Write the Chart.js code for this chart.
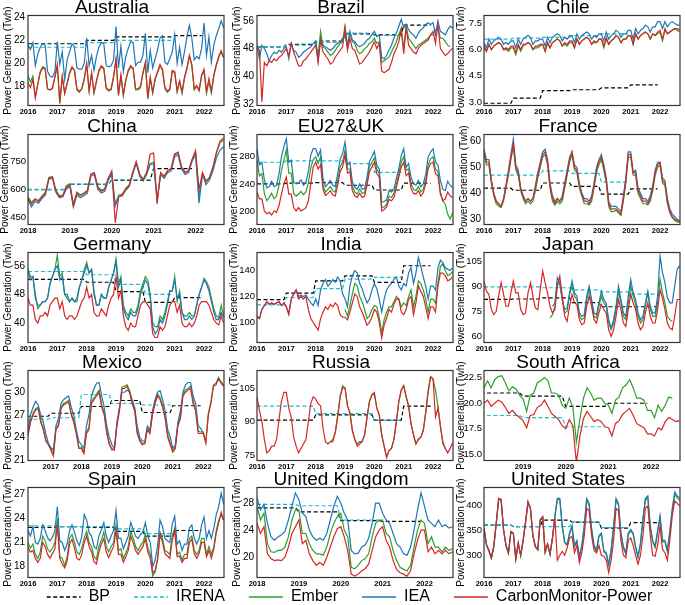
<!DOCTYPE html>
<html>
<head>
<meta charset="utf-8">
<script src="https://cdn.jsdelivr.net/npm/chart.js@4.4.0/dist/chart.umd.min.js"></script>
<style>
  body { margin: 0; background: #fff; width: 685px; height: 605px; overflow: hidden; position: relative; }
  canvas { position: absolute; }
</style>
</head>
<body>
<script>
// ---------- data (monthly series start at the given year/month, annual at Jan of start year) ----------
const years16 = [2016, 2017, 2018, 2019, 2020, 2021, 2022];
const years18 = [2018, 2019, 2020, 2021, 2022];
const yearsMexico = [2017, 2018, 2019, 2020, 2021, 2022];
const yearsSA = [2019, 2020, 2021, 2022];

// Australia
const australiaTicks = [18, 20, 22, 24];
const australiaBP = [21.7, 21.7, 22.0, 22.3, 22.3, 22.4];
const australiaIRENA = [21.4, 21.4, 21.8, 22.0, 22.0];
const australiaEmber = [
  18.9, 18.4, 18.9, 17.1, 18.2, 19.3, 19.7, 19.6, 17.8, 17.7, 17.8, 18.8,
  19.8, 16.5, 18.8, 17.4, 18.2, 19.1, 19.6, 19.4, 17.7, 17.5, 17.8, 18.6,
  19.9, 17.6, 19.1, 17.4, 18.4, 19.3, 19.7, 19.5, 17.8, 17.6, 17.7, 18.8,
  20.3, 17.2, 18.9, 17.2, 18.5, 19.3, 19.7, 19.5, 17.7, 17.7, 17.9, 19.1,
  20.0, 16.9, 18.7, 17.4, 18.6, 19.2, 19.8, 19.4, 17.8, 17.5, 17.7, 19.3,
  19.2, 17.5, 18.4, 17.4, 18.7, 19.5, 20.6, 19.8, 17.7, 18.0, 17.6, 18.9,
  19.3, 17.4, 18.4, 17.4, 18.9, 19.8, 20.5, 21.0, 20.5
];
const australiaIEA = [
  21.6, 21.2, 21.8, 19.8, 20.8, 21.4, 21.7, 21.6, 19.3, 18.9, 18.8, 19.3,
  21.9, 19.9, 21.0, 18.6, 20.3, 21.0, 21.7, 21.4, 19.6, 19.5, 19.5, 20.0,
  22.2, 19.8, 20.7, 19.4, 20.6, 21.4, 21.8, 21.7, 19.8, 19.7, 19.8, 20.3,
  23.2, 19.6, 21.5, 19.3, 20.6, 21.3, 21.9, 21.8, 19.8, 20.1, 20.1, 20.7,
  22.6, 19.2, 21.1, 19.6, 20.4, 21.2, 22.2, 22.4, 20.1, 19.9, 20.4, 21.0,
  22.5, 20.0, 21.4, 19.9, 21.0, 22.3, 23.3, 22.2, 20.3, 20.6, 20.4, 21.3,
  23.5, 20.7, 22.3, 20.1, 21.6, 22.4, 23.0, 23.7, 23.1
];
const australiaCM = [
  18.3, 17.9, 18.6, 17.0, 18.2, 19.2, 19.6, 19.5, 17.8, 17.7, 17.9, 18.8,
  19.9, 16.6, 18.9, 17.4, 18.3, 19.2, 19.7, 19.4, 17.8, 17.6, 17.8, 18.7,
  20.0, 17.6, 19.2, 17.5, 18.5, 19.4, 19.8, 19.6, 17.9, 17.7, 17.8, 18.9,
  20.4, 17.3, 19.0, 17.3, 18.6, 19.4, 19.8, 19.6, 17.8, 17.8, 18.0, 19.2,
  20.1, 17.0, 18.8, 17.5, 18.7, 19.3, 19.9, 19.5, 17.9, 17.6, 17.8, 19.4,
  19.3, 17.6, 18.5, 17.5, 18.8, 19.6, 20.7, 19.9, 17.8, 18.1, 17.7, 19.0,
  19.5, 17.6, 18.7, 17.6, 19.0, 19.9, 20.6, 21.1, 20.5
];

// Brazil
const brazilTicks = [32, 40, 48, 56];
const brazilBP = [48.5, 49.2, 50.2, 52.3, 52.0, 54.8];
const brazilIRENA = [48.5, 49.0, 49.8, 52.5, 51.8];
const brazilEmber = [
  50.0, 46.0, 53.0, 48.5, 48.0, 47.0, 46.0, 46.5, 47.5, 48.5, 49.5, 50.0,
  54.5, 49.0, 52.5, 50.0, 49.5, 47.5, 46.5, 47.0, 48.0, 48.5, 49.5, 50.0,
  51.0, 49.5, 50.0, 44.0, 44.5, 45.0, 45.5, 47.0, 48.5, 50.0, 52.0, 54.0,
  48.0, 54.5, 51.0, 50.0, 49.0, 48.0, 49.0, 49.5, 50.0, 50.5, 51.0, 52.0,
  52.0, 53.5, 54.0, 51.0, 51.0, 50.0, 49.0, 48.5
];
const brazilIEA = [
  49.0, 45.0, 49.0, 48.0, 46.5, 44.5, 46.0, 47.0, 46.5, 47.5, 47.0, 48.0,
  48.5, 45.0, 49.5, 47.5, 47.0, 45.5, 46.0, 47.0, 47.5, 48.0, 48.5, 49.5,
  50.0, 44.5, 51.0, 49.0, 48.5, 48.0, 47.5, 48.0, 49.0, 49.5, 50.0, 51.0,
  52.0, 48.5, 53.0, 50.5, 50.0, 49.0, 48.5, 49.0, 49.5, 50.5, 51.0, 52.0,
  53.0, 51.5, 52.0, 45.5, 45.0, 46.0, 47.5, 49.0, 51.0, 52.5, 54.5, 56.5,
  54.0, 55.0, 53.5, 52.5, 52.0, 51.0, 52.5, 53.5, 54.0, 55.0, 55.5, 55.0,
  55.5, 52.0, 56.0, 53.0, 52.5, 52.0, 53.5, 54.5, 54.0
];
const brazilCM = [
  48.5, 47.5, 32.5, 44.0, 43.0, 44.5, 44.0, 45.0, 44.5, 45.5, 46.0, 47.0,
  48.0, 46.0, 49.5, 47.0, 45.0, 43.0, 43.0, 44.5, 45.0, 46.0, 47.0, 48.0,
  49.0, 44.0, 50.5, 47.0, 46.0, 45.0, 43.5, 44.0, 45.5, 46.5, 47.5, 48.5,
  54.0, 47.5, 51.0, 48.0, 47.5, 45.5, 43.5, 44.0, 45.0, 46.0, 47.0, 48.5,
  50.0, 48.0, 49.5, 41.5, 41.0, 41.5, 42.0, 44.0, 46.5, 48.0, 50.0, 53.5,
  46.5, 54.0, 49.0, 48.0, 47.0, 46.5, 48.0, 49.0, 49.5, 50.0, 50.5, 52.0,
  53.0, 49.5, 55.0, 48.0, 47.0, 46.0, 46.5, 47.5, 48.0
];

// Chile
const chileTicks = [3.0, 4.5, 6.0, 7.5];
const chileBP = [2.93, 3.22, 3.65, 3.7, 3.81, 3.98];
const chileIRENA = [6.6, 6.65, 6.7, 6.8, 6.9];
const chileEmber = [
  6.1, 5.9, 6.3, 6.0, 6.2, 6.3, 6.4, 6.3, 6.0, 6.0, 5.9, 6.1,
  6.1, 5.7, 6.2, 5.9, 6.2, 6.3, 6.4, 6.3, 6.0, 6.1, 6.1, 6.2,
  6.3, 5.9, 6.4, 6.1, 6.4, 6.5, 6.6, 6.5, 6.2, 6.3, 6.2, 6.4,
  6.4, 6.1, 6.6, 6.3, 6.5, 6.6, 6.7, 6.6, 6.3, 6.4, 6.4, 6.6,
  6.6, 6.1, 6.6, 6.3, 6.5, 6.6, 6.8, 6.7, 6.4, 6.6, 6.6, 6.8,
  6.8, 6.3, 6.9, 6.6, 6.8, 6.9, 7.0, 6.9, 6.6, 6.9, 6.8, 6.9,
  7.0, 6.5, 7.1, 6.9, 7.0, 7.1, 7.2, 7.1, 7.0
];
const chileIEA = [
  6.4, 6.1, 6.6, 6.3, 6.5, 6.6, 6.7, 6.6, 6.3, 6.4, 6.3, 6.5,
  6.5, 6.1, 6.6, 6.3, 6.6, 6.7, 6.8, 6.7, 6.3, 6.5, 6.5, 6.6,
  6.6, 6.2, 6.7, 6.4, 6.7, 6.8, 6.9, 6.8, 6.5, 6.7, 6.6, 6.8,
  6.8, 6.4, 6.9, 6.6, 6.8, 6.9, 7.0, 6.9, 6.6, 6.8, 6.7, 6.9,
  6.9, 6.5, 7.0, 6.6, 6.8, 6.9, 7.1, 7.0, 6.7, 6.9, 6.9, 7.1,
  7.1, 6.6, 7.2, 6.9, 7.1, 7.2, 7.4, 7.3, 7.0, 7.3, 7.3, 7.6,
  7.6, 7.2, 7.6, 7.3, 7.5, 7.6, 7.5, 7.4, 7.4
];
const chileCM = [
  6.2, 5.9, 6.3, 6.0, 6.2, 6.3, 6.4, 6.3, 6.0, 6.1, 6.0, 6.2,
  6.2, 5.8, 6.3, 6.0, 6.3, 6.3, 6.4, 6.3, 6.0, 6.2, 6.2, 6.3,
  6.3, 5.9, 6.4, 6.1, 6.4, 6.5, 6.6, 6.5, 6.2, 6.4, 6.3, 6.5,
  6.5, 6.1, 6.6, 6.3, 6.5, 6.6, 6.7, 6.6, 6.3, 6.5, 6.4, 6.6,
  6.6, 6.2, 6.7, 6.3, 6.5, 6.6, 6.8, 6.7, 6.4, 6.6, 6.6, 6.8,
  6.8, 6.3, 6.9, 6.6, 6.8, 6.9, 7.0, 6.9, 6.6, 6.9, 6.8, 7.0,
  7.1, 6.6, 7.2, 6.9, 7.0, 7.1, 7.2, 7.2, 7.1
];

// China (from 2018)
const chinaTicks = [450, 600, 750];
const chinaBP = [598, 627, 650, 712];
const chinaIRENA = [600, 628, 653];
const chinaEmber = [
  560, 530, 550, 540, 565, 585, 665, 668, 595, 565, 570, 620,
  630, 520, 585, 570, 580, 595, 680, 690, 615, 595, 605, 660,
  690, 520, 570, 575, 605, 625, 690, 745, 680, 655, 690, 740,
  745, 545, 690, 670, 700, 712, 785, 795, 720, 692, 700, 760,
  800, 560, 690, 645, 665, 720, 795, 850, 865
];
const chinaIEA = [
  545, 505, 535, 525, 550, 570, 655, 660, 585, 555, 560, 605,
  615, 505, 570, 555, 565, 580, 670, 680, 600, 580, 590, 650,
  680, 510, 560, 565, 595, 615, 680, 740, 670, 645, 680, 735,
  735, 540, 680, 660, 690, 700, 775, 785, 710, 680, 690, 750,
  790, 525, 680, 625, 650, 700, 770, 810, 830
];
const chinaCM = [
  555, 520, 545, 535, 560, 580, 660, 665, 590, 560, 565, 615,
  625, 510, 580, 565, 575, 590, 680, 690, 610, 590, 600, 660,
  700, 420, 560, 570, 600, 620, 690, 750, 680, 650, 690, 790,
  795, 525, 690, 670, 700, 710, 790, 800, 720, 690, 700, 760,
  810, 600, 690, 640, 660, 720, 800, 860, 875
];

// EU27&UK
const euTicks = [200, 240, 280];
const euBP = [240, 241, 242, 238, 231, 241];
const euIRENA = [272, 274, 274, 270, 257];
const euEmber = [
  275, 252, 255, 226, 215, 220, 226, 218, 222, 238, 260, 275,
  290, 256, 256, 226, 222, 225, 229, 224, 228, 241, 264, 276,
  280, 270, 280, 238, 228, 232, 236, 230, 228, 245, 265, 272,
  290, 262, 262, 236, 228, 225, 232, 226, 227, 243, 265, 272,
  278, 262, 255, 205, 206, 210, 222, 220, 226, 240, 255, 272,
  280, 260, 262, 240, 232, 230, 236, 228, 232, 246, 268, 277,
  280, 262, 258, 228, 215, 210, 195, 188, 197
];
const euIEA = [
  292, 268, 272, 246, 234, 236, 244, 236, 238, 255, 280, 295,
  307, 272, 275, 243, 240, 241, 246, 238, 242, 258, 283, 292,
  292, 281, 290, 248, 236, 240, 245, 238, 236, 255, 276, 285,
  302, 268, 272, 243, 235, 232, 240, 232, 233, 250, 273, 280,
  288, 268, 262, 213, 214, 216, 230, 228, 232, 248, 262, 282,
  292, 265, 270, 250, 240, 238, 245, 236, 240, 254, 280, 287,
  292, 272, 268, 245, 232, 230, 244, 238, 234
];
const euCM = [
  228, 218, 218, 200, 196, 198, 194, 200, 198, 208, 225, 240,
  250, 225, 225, 205, 200, 205, 200, 202, 205, 215, 240, 265,
  272, 262, 268, 232, 223, 226, 230, 224, 222, 238, 258, 265,
  283, 256, 258, 230, 222, 220, 226, 220, 222, 238, 258, 265,
  272, 255, 250, 200, 202, 206, 217, 215, 220, 235, 250, 265,
  272, 252, 256, 233, 226, 225, 230, 222, 227, 240, 262, 270,
  272, 255, 252, 225, 215, 218, 228, 222, 220
];

// France
const franceTicks = [30, 40, 50, 60];
const franceBP = [42, 41.2, 44, 42.7, 39.7, 41.7];
const franceIRENA = [47, 47, 48.7, 47.7, 44.3];
const franceEmber = [
  55, 51, 51, 44, 39, 36, 35, 34.5, 37, 42, 47, 53,
  58, 49, 47, 41, 38, 36, 37, 36, 37, 41, 46, 50,
  54, 55, 51, 42, 37, 35.5, 37, 36, 37, 42, 47, 52,
  55, 49, 48, 42, 39, 36, 36, 35.5, 37, 42, 48, 51,
  53, 49, 44, 35, 33, 33, 33.5, 32.5, 31.5, 37, 44, 54,
  54, 47, 47, 40, 38, 36, 36, 35.5, 37, 41, 47, 50,
  51, 44, 43, 36, 32.5, 30.5, 29.5, 29, 28.8
];
const franceIEA = [
  57, 53, 53, 45, 40, 37, 36, 35, 38, 43, 49, 55,
  61, 51, 49, 42, 39, 37, 38, 37, 38, 43, 48, 52,
  56, 57, 53, 44, 39, 37, 38, 37, 39, 44, 49, 54,
  56, 51, 50, 44, 40, 38, 38, 37, 39, 44, 50, 53,
  55, 51, 46, 37, 35, 35, 35, 34, 33, 39, 46, 56,
  56, 48, 49, 42, 40, 38, 38, 37, 39, 43, 49, 52,
  52, 46, 45, 38, 34, 32, 31, 30, 29.5
];
const franceCM = [
  56, 52, 52, 45, 40, 37, 36, 35, 38, 43, 48, 54,
  59, 50, 48, 42, 39, 37, 38, 37, 38, 42, 47, 51,
  55, 56, 52, 43, 38, 36, 38, 37, 38, 43, 48, 53,
  56, 50, 49, 43, 40, 37, 37, 36, 38, 43, 49, 52,
  54, 50, 45, 36, 34, 34, 34, 33, 32, 38, 45, 55,
  55, 48, 48, 41, 39, 37, 37, 36, 38, 42, 48, 51,
  52, 45, 44, 37, 33, 31, 30, 29.5, 29
];

// Germany
const germanyTicks = [40, 48, 56];
const germanyBP = [52.2, 52.2, 51.4, 48.8, 45.8, 47.1];
const germanyIRENA = [54.4, 54.4, 53.5, 50.8, 48.0];
const germanyEmber = [
  55, 53, 53, 48, 44, 45, 46, 46, 47, 51, 53, 55,
  59, 53, 54, 48, 47, 46, 47, 46, 46, 50, 52, 55,
  57, 54, 55, 49, 45, 45, 48, 47, 47, 50, 52, 54,
  58, 51, 53, 45, 43, 42, 44, 43, 43, 45, 49, 51,
  53, 52, 48, 40, 39, 39, 42, 41, 43, 46, 49, 49,
  53, 46, 49, 43, 42, 42, 43, 42, 42, 45, 48, 50,
  52.5, 51.5, 50, 47, 44, 42, 41.5, 45, 42
];
const germanyIEA = [
  55, 52, 53, 47, 45, 45, 46, 46, 47, 51, 53, 55,
  56, 52, 53, 48, 48, 46, 47, 46, 47, 50, 52, 54,
  56, 54, 55, 48, 45, 45, 48, 47, 47, 50, 52, 54,
  57, 50, 52, 44, 42, 41, 43, 42, 42, 44, 48, 50,
  52, 51, 47, 39, 37, 38, 41, 40, 42, 45, 49, 49,
  52, 47, 48, 43, 41, 41, 42, 41, 42, 45, 48, 50,
  52, 51, 49, 46, 43, 41, 41, 43, 41.5
];
const germanyCM = [
  47, 45, 45, 41, 40, 42, 42, 43, 42, 45, 46, 47,
  47, 44, 46, 42, 41, 42, 42, 41, 42, 44, 46, 47,
  50, 47, 48, 43, 42, 42, 44, 43, 42, 45, 47, 48,
  53, 47, 49, 42, 39, 38, 40, 39, 39, 42, 45, 46,
  46, 45, 44, 37, 36, 36, 39, 38, 39, 42, 45, 46,
  46, 43, 45, 40, 39, 39, 40, 39, 40, 42, 45, 46,
  46, 46, 45, 43, 41, 40, 39.5, 42, 40
];

// India
const indiaTicks = [100, 120, 140];
const indiaBP = [117.5, 122.6, 132, 135.9, 130.8, 143.6];
const indiaIRENA = [113.6, 119.2, 126, 133.3, 134.6];
const indiaEmber = [
  110, 105, 113, 122, 130, 128, 120, 116, 110, 103, 105, 110,
  113, 112, 104, 92, 102, 108, 112, 112, 116, 120, 118, 112,
  115, 113, 120, 125, 112, 120, 132, 130, 125, 118, 108, 118,
  118, 115, 130, 143, 145, 140, 136, 137, 139
];
const indiaIEA = [
  104, 103, 110, 113, 116, 114, 115, 114, 115, 116, 113, 115,
  112, 107, 118, 122, 125, 120, 121, 120, 121, 118, 115, 113,
  118, 113, 125, 130, 133, 128, 130, 133, 131, 135, 132, 122,
  118, 112, 128, 136, 140, 138, 130, 126, 120, 115, 118, 125,
  130, 126, 118, 108, 118, 125, 128, 130, 133, 135, 128, 125,
  130, 128, 138, 142, 130, 138, 150, 143, 135, 128, 118, 128,
  128, 125, 142, 148, 146, 142, 141, 140, 142
];
const indiaCM = [
  105, 103, 110, 113, 116, 114, 115, 114, 115, 116, 113, 115,
  112, 106, 118, 122, 125, 118, 120, 118, 120, 110, 103, 100,
  97, 94, 103, 108, 112, 110, 114, 112, 115, 113, 106, 104,
  104, 102, 108, 115, 122, 120, 112, 108, 103, 98, 100, 104,
  110, 108, 100, 88, 98, 103, 110, 108, 114, 118, 118, 108,
  106, 110, 118, 120, 106, 115, 128, 124, 120, 112, 103, 112,
  112, 108, 128, 138, 138, 136, 132, 133, 135
];

// Japan
const japanTicks = [60, 75, 90, 105];
const japanBP = [82.1, 82.3, 83, 80.1, 77.7, 77.7];
const japanIRENA = [89.5, 89.5, 89.0, 87.8, 86.5, 85.2];
const japanEmber = [
  71, 73, 78, 92, 91, 82, 74, 75, 85,
  90, 84, 82, 72, 70, 71, 82, 88, 80, 72, 71, 78,
  84, 80, 78, 68, 64, 68, 76, 87, 80, 72, 70, 80,
  90, 84, 79, 72, 68, 70, 78, 86, 76, 72, 72, 80,
  94, 86, 80, 72, 70, 69
];
const japanIEA = [
  78, 80, 95, 92, 82, 76, 77, 86,
  93, 86, 84, 74, 72, 73, 84, 90, 82, 74, 73, 80,
  87, 82, 80, 70, 65, 70, 78, 90, 82, 74, 72, 84,
  94, 86, 82, 74, 70, 72, 80, 87, 78, 74, 74, 84,
  108, 98, 92, 83, 80, 80, 90, 100, 102
];
const japanCM = [
  93, 87, 85, 76, 73, 75, 84, 92, 85, 78, 78, 86,
  93, 86, 86, 76, 73, 74, 86, 92, 84, 77, 76, 88,
  99, 92, 86, 78, 74, 76, 90, 96, 84, 72, 69, 78,
  85, 80, 79, 70, 67, 68, 78, 84, 78, 70, 68, 74,
  79, 76, 74, 64, 60, 64, 72, 82, 76, 68, 66, 76,
  85, 80, 76, 68, 64, 66, 74, 80, 72, 68, 68, 76,
  88, 83, 76, 68, 65, 64, 72, 82, 82
];

// Mexico (monthly data from April 2016)
const mexicoTicks = [21, 24, 27, 30];
const mexicoBP = [26.8, 27.2, 28.1, 28.9, 27.3, 28.2];
const mexicoIRENA = [26.4, 26.6, 29.7, 28.5, 28.3];
const mexicoEmber = [
  24.2, 26.2, 27.2, 27.8, 28.0, 26.2, 25.0, 23.6, 23.2,
  22.5, 21.7, 25.2, 25.7, 28.0, 28.5, 28.7, 28.9, 27.2, 26.2, 24.7, 22.7,
  22.7, 22.0, 24.7, 25.3, 28.7, 29.3, 29.8, 30.3, 28.3, 27.3, 24.8, 23.2,
  22.3, 22.4, 25.7, 27.8, 30.7, 30.8, 31.0, 30.2, 28.7, 27.7, 24.7, 23.7,
  23.2, 23.1, 25.2, 24.7, 27.3, 28.8, 29.8, 29.3, 28.2, 26.7, 24.3, 23.2,
  22.2, 22.7, 25.7, 26.8, 29.7, 30.3, 30.5, 30.8, 28.8, 27.7, 24.8, 24.7,
  24.7, 23.4, 27.2, 28.7, 31.0, 31.2, 32.0, 31.4, 31.0
];
const mexicoIEA = [
  25.0, 27.0, 28.0, 28.8, 28.3, 27.0, 26.0, 24.5, 23.2,
  22.6, 22.3, 25.5, 26.5, 28.5, 29.0, 29.3, 29.5, 28.0, 27.0, 25.0, 23.5,
  23.0, 22.5, 25.5, 27.0, 29.5, 30.5, 31.2, 31.3, 29.5, 28.0, 25.5, 24.0,
  23.0, 22.5, 26.0, 28.0, 30.0, 30.0, 30.3, 30.0, 29.0, 28.0, 25.5, 24.0,
  23.5, 23.5, 25.5, 25.0, 27.5, 29.0, 30.0, 30.2, 29.0, 27.5, 25.0, 24.0,
  22.5, 23.0, 26.0, 27.5, 30.0, 31.0, 31.3, 31.3, 29.5, 28.5, 25.5, 25.2,
  24.5
];
const mexicoCM = [
  24.3, 26.0, 27.0, 27.6, 27.8, 26.0, 25.2, 23.5, 23.0,
  22.3, 21.5, 25.0, 25.5, 27.8, 28.3, 28.5, 28.7, 27.0, 26.0, 24.5, 22.5,
  22.5, 21.8, 24.5, 25.0, 28.5, 29.0, 29.5, 30.0, 28.0, 27.0, 24.5, 23.0,
  22.5, 22.3, 25.5, 27.5, 30.5, 30.5, 30.8, 30.0, 28.5, 27.5, 24.5, 23.5,
  23.0, 23.3, 25.0, 24.5, 27.0, 28.5, 29.5, 29.0, 28.0, 26.5, 24.0, 23.0,
  22.0, 22.5, 25.5, 26.5, 29.5, 30.0, 30.3, 30.5, 28.5, 27.5, 24.5, 24.5,
  24.5, 23.2, 27.0, 28.5, 30.8, 31.0, 31.8, 31.2, 30.8
];

// Russia
const russiaTicks = [75, 90, 105];
const russiaBP = [90.6, 90.6, 93, 93, 90.6, 96.9];
const russiaIRENA = [96.9, 96.9, 93.5, 93.5, 90.5];
const russiaEmber = [
  81, 82, 85, 93, 101, 106,
  105, 97, 94, 86, 82, 80, 81, 81, 84, 92, 99, 102,
  102, 96, 93, 84, 79, 74, 77, 78, 82, 90, 99, 104,
  106, 101, 97, 89, 84, 80, 82, 83, 86, 94, 104, 110,
  109, 104, 97, 88, 80, 78
];
const russiaCM = [
  101, 95, 90, 82, 76, 77, 79, 79, 82, 91, 99, 103,
  103, 96, 92, 83, 79, 76, 78, 80, 82, 90, 98, 101,
  100, 98, 97, 87, 81, 80, 81, 81, 85, 92, 101, 105,
  105, 97, 94, 86, 82, 79, 80, 81, 84, 92, 99, 102,
  103, 96, 93, 84, 79, 74, 77, 78, 82, 90, 99, 104,
  106, 101, 97, 89, 84, 80, 82, 83, 86, 94, 103, 110,
  109, 92, 96, 88, 81, 78, 76, 78, 80.5
];

// South Africa (monthly data from February 2018)
const southAfricaTicks = [15.0, 17.5, 20.0, 22.5];
const southAfricaBP = [21.0, 20.7, 19.7, 20.0];
const southAfricaIRENA = [18.8, 18.6, 17.7];
const southAfricaEmber = [
  21.5, 22.2, 21.5, 22.3, 22.6, 22.7, 22.0, 21.2, 21.6, 21.4, 20.8,
  20.4, 19.2, 20.8, 21.0, 22.0, 22.2, 22.5, 22.2, 21.0, 21.0, 20.8, 19.8,
  19.5, 20.5, 19.6, 16.2, 18.5, 20.5, 21.5, 21.0, 20.3, 20.5, 20.5, 20.0,
  19.8, 19.0, 20.3, 20.6, 21.5, 21.8, 22.3, 21.5, 20.5, 20.5, 20.3, 19.3,
  19.3, 18.6, 19.8, 19.2, 19.8, 20.6, 20.5
];
const southAfricaCM = [
  20.0, 20.3, 19.7, 20.0, 20.3, 20.1, 19.6, 19.0, 19.3, 18.9, 18.6,
  18.3, 17.6, 18.8, 18.9, 19.6, 19.8, 20.3, 19.7, 19.0, 18.7, 18.4, 17.8,
  17.5, 18.4, 17.8, 14.2, 16.8, 18.5, 19.2, 18.7, 18.2, 18.4, 18.2, 17.7,
  17.6, 16.8, 18.0, 18.3, 18.9, 19.2, 19.5, 18.8, 18.0, 17.8, 17.6, 17.0,
  17.0, 16.8, 17.6, 17.4, 18.2, 18.6, 18.4, 18.2, 18.3
];

// Spain
const spainTicks = [18, 21, 24, 27];
const spainBP = [22.9, 23.0, 22.9, 22.4, 21.8, 22.5];
const spainIRENA = [23.1, 23.0, 23.0, 22.7, 22.1];
const spainEmber = [
  21.0, 20.3, 20.8, 19.5, 19.0, 19.8, 21.8, 21.2, 20.2, 19.8, 20.3, 21.0,
  24.0, 19.2, 19.0, 18.1, 19.2, 21.5, 22.0, 21.0, 19.8, 19.5, 20.3, 21.6,
  22.4, 21.0, 20.5, 19.2, 18.9, 20.5, 21.3, 22.3, 20.5, 19.8, 20.5, 21.0,
  23.2, 20.0, 20.2, 19.0, 19.7, 20.5, 22.4, 21.6, 20.5, 20.0, 20.6, 21.0,
  22.0, 20.3, 19.5, 16.8, 17.3, 19.0, 22.3, 21.5, 20.0, 19.8, 19.5, 21.8,
  22.8, 19.5, 19.8, 18.8, 19.5, 19.5, 21.5, 21.8, 20.0, 19.5, 20.0, 21.5,
  21.5, 19.5, 20.5, 19.5, 20.5, 22.5, 23.8, 24.5, 23.8
];
const spainIEA = [
  22.5, 21.8, 23.0, 21.0, 20.8, 21.5, 23.2, 22.5, 21.6, 21.2, 21.7, 22.5,
  25.5, 21.2, 21.0, 20.0, 20.8, 22.5, 23.2, 22.3, 21.2, 20.6, 21.8, 24.5,
  23.8, 22.2, 21.8, 20.5, 20.2, 21.8, 22.6, 23.5, 21.8, 21.0, 21.8, 22.5,
  25.0, 21.5, 21.5, 20.2, 21.0, 21.8, 23.5, 22.7, 21.8, 21.5, 22.0, 22.3,
  23.5, 21.8, 21.0, 18.0, 18.8, 20.5, 23.8, 23.0, 21.5, 21.2, 21.0, 23.3,
  24.3, 20.8, 21.2, 20.0, 20.8, 20.8, 22.8, 23.2, 21.5, 20.8, 21.5, 23.2,
  24.2, 21.5, 22.5, 21.5, 22.8, 24.5, 25.5, 27.2, 25.8
];
const spainCM = [
  20.4, 19.8, 20.0, 19.0, 18.5, 19.0, 21.0, 20.5, 19.5, 19.0, 19.6, 20.2,
  23.2, 19.0, 18.3, 17.8, 18.7, 20.8, 21.4, 20.3, 19.0, 18.8, 19.5, 21.0,
  21.8, 20.5, 19.8, 18.6, 18.3, 19.8, 20.8, 21.5, 19.8, 19.1, 19.8, 20.5,
  22.5, 19.5, 19.5, 18.5, 19.2, 20.0, 21.8, 21.0, 20.0, 19.5, 20.0, 20.5,
  21.5, 19.8, 19.0, 17.2, 17.5, 18.8, 22.0, 21.0, 19.6, 19.3, 19.0, 21.3,
  22.5, 19.2, 19.3, 18.5, 19.0, 19.0, 21.0, 21.4, 19.6, 19.0, 19.6, 21.0,
  21.0, 19.2, 20.0, 19.0, 20.2, 22.2, 23.5, 24.8, 23.8
];

// United Kingdom (from 2018)
const ukTicks = [20, 24, 28];
const ukBP = [27.3, 26.7, 25.4, 25.3];
const ukIRENA = [27.8, 27.6, 25.5];
const ukEmber = [
  27.5, 25.5, 26.5, 22.0, 20.8, 20.7, 21.0, 21.0, 21.5, 23.0, 25.5, 27.0,
  27.0, 23.5, 23.5, 22.0, 21.0, 20.5, 20.5, 20.3, 21.5, 23.5, 25.0, 26.0,
  26.5, 24.0, 23.0, 18.5, 18.3, 18.8, 19.5, 19.8, 20.5, 23.0, 25.0, 25.5,
  25.5, 23.5, 23.0, 21.0, 19.5, 18.5, 18.2, 18.0, 18.8, 21.5, 24.0, 25.5,
  25.0, 22.0, 23.0, 21.5, 21.5, 20.8, 21.5, 21.0, 21.3
];
const ukIEA = [
  28.8, 27.0, 27.8, 25.0, 23.0, 22.5, 23.0, 23.3, 23.8, 25.5, 27.5, 29.5,
  28.5, 26.5, 26.0, 24.0, 23.0, 22.5, 22.8, 22.5, 23.5, 25.5, 27.5, 29.0,
  28.0, 26.5, 25.5, 21.0, 20.5, 20.6, 21.5, 21.8, 22.8, 25.0, 28.0, 28.0,
  26.5, 25.5, 25.0, 23.5, 22.0, 21.5, 20.5, 20.3, 21.5, 24.0, 27.0, 29.5,
  27.5, 25.5, 25.0, 24.5, 25.5, 24.5, 24.8, 24.3, 24.5
];
const ukCM = [
  25.0, 23.5, 24.5, 20.5, 19.8, 19.5, 19.6, 19.5, 20.0, 21.5, 23.5, 24.5,
  25.5, 22.0, 22.5, 20.5, 19.5, 18.8, 19.2, 18.8, 20.0, 21.5, 23.0, 24.2,
  24.5, 23.0, 21.0, 17.5, 17.2, 17.5, 18.0, 18.3, 19.0, 21.0, 23.0, 24.0,
  24.5, 22.5, 21.5, 19.5, 18.2, 17.7, 17.5, 17.2, 18.0, 20.5, 22.5, 24.0,
  24.0, 20.8, 21.5, 20.5, 21.0, 20.5, 21.0, 20.5, 20.8
];

// United States
const usTicks = [300, 350, 400];
const usBP = [361, 358, 371, 367, 355, 366];
const usIRENA = [361, 358, 358, 367, 356];
const usEmber = [
  353, 320, 308, 293, 316, 363, 413, 411, 350, 318, 303, 346,
  343, 291, 323, 298, 328, 366, 406, 393, 338, 316, 310, 370,
  376, 305, 321, 301, 333, 378, 413, 413, 358, 325, 320, 343,
  357, 317, 327, 295, 317, 357, 411, 401, 351, 317, 307, 337,
  342, 307, 302, 279, 309, 356, 411, 401, 341, 315, 302, 342,
  349, 342, 315, 295, 322, 371, 411, 416, 356, 327, 315, 347,
  376, 327, 327, 307, 346, 390, 423, 416, 411
];
const usIEA = [
  355, 322, 310, 295, 318, 365, 415, 413, 352, 320, 305, 348,
  345, 293, 325, 300, 330, 368, 408, 395, 340, 318, 312, 372,
  378, 307, 323, 303, 335, 380, 415, 415, 360, 327, 322, 345,
  360, 320, 330, 298, 320, 360, 415, 405, 355, 320, 310, 340,
  345, 310, 305, 282, 312, 360, 415, 405, 345, 318, 305, 345,
  352, 345, 318, 298, 325, 375, 415, 420, 360, 330, 318, 350,
  380, 330, 330, 310, 350, 395, 428, 420, 415
];
const usCM = [
  355, 322, 310, 295, 318, 365, 415, 413, 352, 320, 305, 348,
  345, 293, 325, 300, 330, 368, 408, 395, 340, 318, 312, 372,
  378, 307, 323, 303, 335, 375, 290, 300, 308, 300, 315, 335,
  338, 305, 320, 285, 305, 340, 395, 390, 340, 310, 305, 320,
  300, 298, 290, 265, 290, 330, 395, 390, 330, 300, 295, 330,
  335, 320, 300, 282, 300, 340, 395, 400, 340, 300, 298, 320,
  360, 312, 305, 290, 330, 380, 410, 405, 400
];

// ---------- panels ----------
const panels = [
  { title: 'Australia', ticks: australiaTicks, y: [16.35, 24.15], x: [2016, 2022.68], years: years16,
    bp: [2016, australiaBP], irena: [2016, australiaIRENA], ember: [2016, 1, australiaEmber], iea: [2016, 1, australiaIEA], cm: [2016, 1, australiaCM] },
  { title: 'Brazil', ticks: brazilTicks, y: [31.5, 57.6], x: [2016, 2022.68], years: years16,
    bp: [2016, brazilBP], irena: [2016, brazilIRENA], ember: [2018, 1, brazilEmber], iea: [2016, 1, brazilIEA], cm: [2016, 1, brazilCM] },
  { title: 'Chile', ticks: chileTicks, dec: 1, y: [2.8, 7.95], x: [2016, 2022.68], years: years16,
    bp: [2016, chileBP], irena: [2016, chileIRENA], ember: [2016, 1, chileEmber], iea: [2016, 1, chileIEA], cm: [2016, 1, chileCM] },
  { title: 'China', ticks: chinaTicks, y: [411, 895], x: [2018, 2022.68], years: years18,
    bp: [2018, chinaBP], irena: [2018, chinaIRENA], ember: [2018, 1, chinaEmber], iea: [2018, 1, chinaIEA], cm: [2018, 1, chinaCM] },
  { title: 'EU27&UK', ticks: euTicks, y: [180, 313], x: [2016, 2022.68], years: years16,
    bp: [2016, euBP], irena: [2016, euIRENA], ember: [2016, 1, euEmber], iea: [2016, 1, euIEA], cm: [2016, 1, euCM] },
  { title: 'France', ticks: franceTicks, y: [28, 62.7], x: [2016, 2022.68], years: years16,
    bp: [2016, franceBP], irena: [2016, franceIRENA], ember: [2016, 1, franceEmber], iea: [2016, 1, franceIEA], cm: [2016, 1, franceCM] },
  { title: 'Germany', ticks: germanyTicks, y: [34.6, 59.7], x: [2016, 2022.68], years: years16,
    bp: [2016, germanyBP], irena: [2016, germanyIRENA], ember: [2016, 1, germanyEmber], iea: [2016, 1, germanyIEA], cm: [2016, 1, germanyCM] },
  { title: 'India', ticks: indiaTicks, y: [84.6, 153.8], x: [2016, 2022.68], years: years16,
    bp: [2016, indiaBP], irena: [2016, indiaIRENA], ember: [2019, 1, indiaEmber], iea: [2016, 1, indiaIEA], cm: [2016, 1, indiaCM] },
  { title: 'Japan', ticks: japanTicks, y: [56.4, 110], x: [2016, 2022.68], years: years16,
    bp: [2016, japanBP], irena: [2016, japanIRENA], ember: [2018, 4, japanEmber], iea: [2018, 5, japanIEA], cm: [2016, 1, japanCM] },
  { title: 'Mexico', ticks: mexicoTicks, y: [20.9, 32.9], x: [2016.25, 2022.68], years: yearsMexico,
    bp: [2016, mexicoBP], irena: [2016, mexicoIRENA], ember: [2016, 4, mexicoEmber], iea: [2016, 4, mexicoIEA], cm: [2016, 4, mexicoCM] },
  { title: 'Russia', ticks: russiaTicks, y: [72.6, 112.8], x: [2016, 2022.68], years: years16,
    bp: [2016, russiaBP], irena: [2016, russiaIRENA], ember: [2018, 7, russiaEmber], cm: [2016, 1, russiaCM] },
  { title: 'South Africa', ticks: southAfricaTicks, dec: 1, y: [14.4, 23.2], x: [2018.083, 2022.68], years: yearsSA,
    bp: [2018, southAfricaBP], irena: [2018, southAfricaIRENA], ember: [2018, 2, southAfricaEmber], cm: [2018, 2, southAfricaCM] },
  { title: 'Spain', ticks: spainTicks, y: [16.6, 27.9], x: [2016, 2022.68], years: years16,
    bp: [2016, spainBP], irena: [2016, spainIRENA], ember: [2016, 1, spainEmber], iea: [2016, 1, spainIEA], cm: [2016, 1, spainCM] },
  { title: 'United Kingdom', ticks: ukTicks, y: [17.0, 30.3], x: [2018, 2022.68], years: years18,
    bp: [2018, ukBP], irena: [2018, ukIRENA], ember: [2018, 1, ukEmber], iea: [2018, 1, ukIEA], cm: [2018, 1, ukCM] },
  { title: 'United States', ticks: usTicks, y: [255, 437], x: [2016, 2022.68], years: years16,
    bp: [2016, usBP], irena: [2016, usIRENA], ember: [2016, 1, usEmber], iea: [2016, 1, usIEA], cm: [2016, 1, usCM] },
];

const SERIES = [
  { key: 'bp', label: 'BP', color: '#000000', dash: [4, 2.5], order: 5 },
  { key: 'irena', label: 'IRENA', color: '#17becf', dash: [4, 2.5], order: 4 },
  { key: 'ember', label: 'Ember', color: '#2ca02c', dash: [], order: 3 },
  { key: 'iea', label: 'IEA', color: '#1f77b4', dash: [], order: 2 },
  { key: 'cm', label: 'CarbonMonitor-Power', color: '#d62728', dash: [], order: 1 },
];

// ---------- layout ----------
const PLOT_LEFT = [28, 256.5, 484];
const PLOT_TOP = [15, 134, 252, 370, 487];
const PLOT_W = 196, PLOT_H = 90;
const Y_AXIS_W = 28, X_AXIS_H = 12;
const TITLE_SIZE = 19, TITLE_GAP = -1.5;        // title box = size + gap
const TITLE_H = TITLE_SIZE + TITLE_GAP;
const FONT = '"Liberation Sans", Arial, Helvetica, sans-serif';

Chart.defaults.font.family = FONT;
Chart.defaults.color = '#000';

function monthly([y, m, vals]) {
  return vals.map((v, i) => ({ x: y + (m - 1 + i) / 12, y: v }));
}
function annual([y, vals]) {
  // one point at January and one at December of every year
  return vals.flatMap((v, i) => [{ x: y + i, y: v }, { x: y + i + 11 / 12, y: v }]);
}

const frame = {
  id: 'frame',
  afterDatasetsDraw(chart) {
    const { ctx, chartArea: a } = chart;
    ctx.save();
    ctx.strokeStyle = '#333';
    ctx.lineWidth = 1.2;
    ctx.strokeRect(a.left, a.top, a.right - a.left, a.bottom - a.top);
    ctx.restore();
  }
};

panels.forEach((p, i) => {
  const col = i % 3, row = Math.floor(i / 3);
  const wide = p.ticks.some(v => (p.dec ? v.toFixed(p.dec) : String(v)).length >= 3);
  const cv = document.createElement('canvas');
  cv.width = Y_AXIS_W + PLOT_W + 2;
  cv.height = Math.ceil(TITLE_H + PLOT_H + X_AXIS_H);
  cv.style.left = (PLOT_LEFT[col] - Y_AXIS_W) + 'px';
  cv.style.top = (PLOT_TOP[row] - TITLE_H) + 'px';
  document.body.appendChild(cv);

  const datasets = SERIES.filter(s => p[s.key]).map(s => ({
    label: s.label,
    data: (s.key === 'bp' || s.key === 'irena') ? annual(p[s.key]) : monthly(p[s.key]),
    borderColor: s.color,
    borderDash: s.dash,
    borderWidth: 1.2,
    pointRadius: 0,
    tension: 0,
    fill: false,
    order: s.order
  }));

  new Chart(cv, {
    type: 'line',
    data: { datasets },
    options: {
      responsive: false,
      animation: false,
      events: [],
      layout: { padding: { left: 0, right: 2, top: 0, bottom: cv.height - (TITLE_H + PLOT_H + X_AXIS_H) } },
      plugins: {
        legend: { display: false },
        tooltip: { enabled: false },
        title: {
          display: true, text: p.title, color: '#000',
          font: { size: TITLE_SIZE, weight: 'normal', lineHeight: 1 },
          padding: { top: 0, bottom: TITLE_GAP }
        }
      },
      scales: {
        x: {
          type: 'linear', min: p.x[0], max: p.x[1],
          afterBuildTicks: s => { s.ticks = p.years.map(v => ({ value: v })); },
          afterFit: s => { s.height = X_AXIS_H; },
          grid: { display: false, drawTicks: false },
          border: { display: false },
          ticks: { autoSkip: false, maxRotation: 0, padding: 2, color: '#000',
                   font: { size: 7.5, weight: 'bold' }, callback: v => String(v) }
        },
        y: {
          min: p.y[0], max: p.y[1],
          afterBuildTicks: s => { s.ticks = p.ticks.map(v => ({ value: v })); },
          afterFit: s => { s.width = Y_AXIS_W; },
          grid: { display: false, drawTicks: false },
          border: { display: false },
          ticks: { padding: wide ? 2 : 3, color: '#000', font: { size: wide ? 9.5 : 10 },
                   callback: v => p.dec ? v.toFixed(p.dec) : String(v) },
          title: { display: true, text: 'Power Generation (Twh)', color: '#000',
                   font: { size: 10 }, padding: { top: wide ? -1 : 2, bottom: 0 } }
        }
      }
    },
    plugins: [frame]
  });
});

// ---------- figure legend ----------
const LEGEND_PAD = 24, LEGEND_FONT = 16;
const lc = document.createElement('canvas');
lc.width = 685; lc.height = 160;
lc.style.left = '0px';
lc.style.top = (597 - LEGEND_PAD - LEGEND_FONT / 2) + 'px';
document.body.appendChild(lc);
new Chart(lc, {
  type: 'line',
  data: {
    datasets: SERIES.map(s => ({
      label: s.label, data: [], borderColor: s.color, backgroundColor: s.color,
      borderDash: s.dash, borderWidth: 1.5
    }))
  },
  options: {
    responsive: false,
    animation: false,
    events: [],
    layout: { padding: { left: 14, right: 0 } },
    scales: { x: { display: false }, y: { display: false } },
    plugins: {
      tooltip: { enabled: false },
      legend: {
        display: true, position: 'top',
        labels: {
          usePointStyle: true, pointStyleWidth: 34,
          padding: LEGEND_PAD, color: '#000', font: { size: LEGEND_FONT },
          generateLabels: chart => chart.data.datasets.map((d, i) => ({
            text: d.label, datasetIndex: i, hidden: false,
            strokeStyle: d.borderColor, fillStyle: d.borderColor,
            lineWidth: 1.5, lineDash: d.borderDash, pointStyle: 'line'
          }))
        }
      }
    }
  }
});
</script>
</body>
</html>
